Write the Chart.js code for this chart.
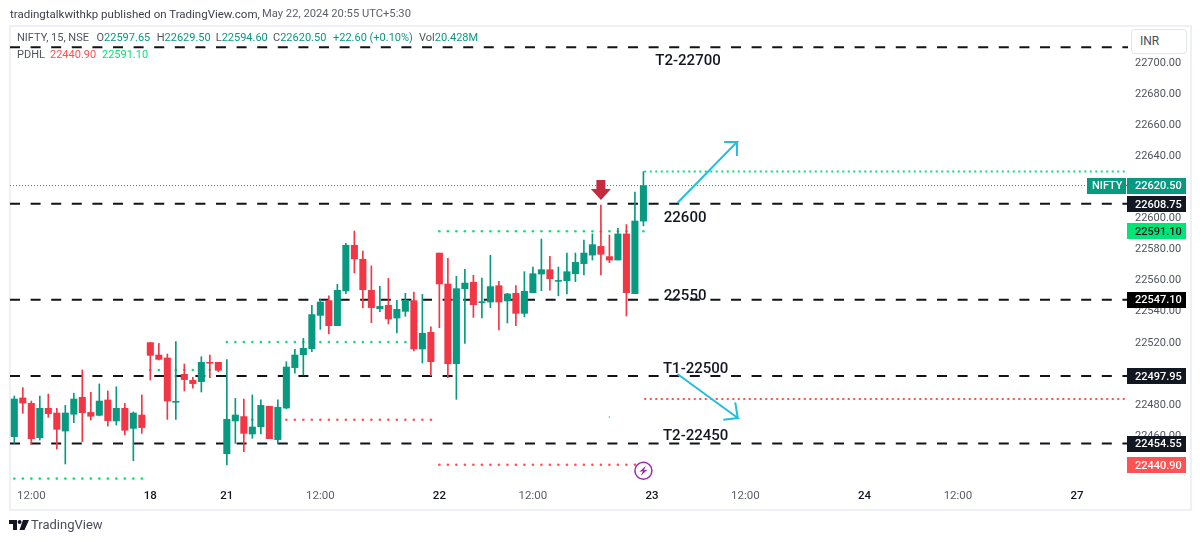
<!DOCTYPE html>
<html><head><meta charset="utf-8">
<script src="https://cdn.jsdelivr.net/npm/chart.js@4/dist/chart.umd.min.js"></script>
<style>
html,body{margin:0;padding:0;background:#fff;width:1200px;height:542px;overflow:hidden;font-family:Roboto,sans-serif}
#frame{position:absolute;left:9px;top:25px;width:1179px;height:482px;border:2px solid #eef0f6}
#wrap{position:absolute;left:0;top:0;width:1200px;height:542px}
.t{position:absolute;white-space:nowrap;line-height:16px;height:16px}
#inr{position:absolute;left:1131px;top:29px;width:54px;height:23px;border:1px solid #e0e3eb;border-radius:4px;background:#fff;font-size:12px;line-height:23px;color:#4a4d58;text-indent:8px}
</style></head><body>
<div id="frame"></div>
<div id="wrap"><canvas id="c" width="1200" height="542"></canvas></div>
<div id="inr">INR</div>
<div class="t" style="left:10px;top:6px;font-size:11.5px;color:#3c3f4a">tradingtalkwithkp published on TradingView.com,</div>
<div class="t" style="left:262px;top:6px;font-size:11.2px;color:#5d606b">May 22, 2024 20:55 UTC+5:30</div>
<div class="t" style="left:17px;top:30px;font-size:11px;color:#50535e">NIFTY, 15, NSE</div>
<div class="t" style="left:96.5px;top:30px;font-size:11px;color:#50535e">O<span style="color:#089981">22597.65</span></div>
<div class="t" style="left:156.7px;top:30px;font-size:11px;color:#50535e">H<span style="color:#089981">22629.50</span></div>
<div class="t" style="left:215.7px;top:30px;font-size:11px;color:#50535e">L<span style="color:#089981">22594.60</span></div>
<div class="t" style="left:273px;top:30px;font-size:11px;color:#50535e">C<span style="color:#089981">22620.50</span></div>
<div class="t" style="left:333px;top:30px;font-size:11px;color:#089981">+22.60 (+0.10%)</div>
<div class="t" style="left:419px;top:30px;font-size:11px;color:#50535e">Vol<span style="color:#089981">20.428M</span></div>
<div class="t" style="left:17px;top:47px;font-size:11px;color:#50535e">PDHL</div>
<div class="t" style="left:50px;top:47px;font-size:11px;color:#ff5252">22440.90</div>
<div class="t" style="left:102px;top:47px;font-size:11px;color:#00e676">22591.10</div>
<svg style="position:absolute;left:9px;top:520px" width="21" height="11" viewBox="0 0 21 11"><path d="M0 0H8V10H4V4H0Z M14 0H20L15.5 10H10.5Z" fill="#131722"/><circle cx="10.6" cy="2" r="2" fill="#131722"/></svg>
<div class="t" style="left:31px;top:517px;font-size:13px;color:#4a4d58">TradingView</div>
<script>
const opens=[22459.0,22483.9,22480.4,22458.3,22477.2,22474.2,22462.6,22473.4,22484.3,22474.6,22472.7,22482.6,22469.1,22477.2,22464.3,22472.9,22519.5,22511.5,22509.6,22481.1,22499.1,22495.2,22494.4,22506.8,22506.8,22448.0,22469.1,22471.9,22460.7,22465.4,22478.5,22457.1,22477.4,22503.4,22511.7,22515.6,22537.0,22546.5,22530.4,22552.7,22582.1,22573.1,22553.1,22541.3,22543.5,22535.3,22539.6,22546.5,22515.4,22526.1,22577.1,22557.2,22505.9,22554.2,22558.3,22545.2,22545.6,22556.1,22546.3,22551.2,22538.3,22551.6,22563.6,22566.4,22558.9,22559.3,22563.8,22570.3,22575.8,22581.4,22574.8,22572.6,22589.4,22551.0,22597.65];
const highs=[22485.1,22490.5,22481.9,22485.1,22486.4,22477.2,22479.1,22486.9,22501.9,22487.5,22492.9,22488.4,22491.1,22480.4,22474.9,22485.8,22519.5,22519.0,22512.2,22520.1,22505.7,22497.2,22510.4,22511.5,22506.8,22508.5,22483.6,22483.2,22485.8,22482.6,22478.5,22482.6,22507.2,22515.2,22522.2,22543.5,22547.5,22549.5,22557.0,22583.4,22591.3,22578.4,22568.8,22555.7,22560.8,22546.7,22551.2,22552.0,22550.5,22529.7,22577.1,22573.7,22562.1,22566.6,22562.8,22561.0,22575.6,22558.9,22551.2,22556.1,22565.1,22568.1,22586.1,22575.0,22568.1,22577.1,22577.1,22585.5,22589.4,22608.0,22588.7,22593.0,22595.4,22616.4,22629.5];
const lows=[22454.7,22474.0,22454.1,22456.8,22471.4,22451.1,22441.4,22468.0,22455.8,22469.7,22472.3,22465.8,22466.5,22460.1,22443.5,22461.1,22495.4,22508.3,22470.1,22470.1,22488.4,22490.1,22487.7,22496.9,22500.8,22440.8,22454.7,22449.3,22457.9,22460.7,22457.7,22454.3,22477.0,22499.9,22498.7,22513.7,22528.0,22525.0,22530.4,22551.0,22564.3,22541.8,22532.3,22539.4,22531.5,22525.7,22536.4,22514.1,22506.4,22498.2,22529.1,22496.9,22483.0,22519.0,22535.7,22535.3,22542.0,22527.6,22532.1,22530.4,22536.0,22551.6,22552.9,22553.3,22549.7,22550.8,22558.7,22563.0,22572.6,22563.0,22570.9,22572.6,22536.6,22551.0,22594.6];
const closes=[22483.2,22480.6,22457.7,22477.2,22473.8,22463.7,22474.2,22483.2,22474.4,22472.1,22481.9,22469.3,22477.2,22463.1,22474.2,22464.8,22511.3,22508.7,22481.9,22481.7,22495.7,22493.1,22506.8,22506.2,22501.7,22470.1,22472.9,22461.1,22465.2,22479.1,22457.7,22477.9,22503.8,22511.5,22515.8,22537.5,22545.6,22530.4,22553.1,22582.1,22573.3,22553.5,22542.0,22542.8,22534.7,22540.9,22546.7,22515.4,22525.5,22507.2,22557.2,22505.9,22554.2,22557.8,22543.9,22545.8,22555.5,22545.6,22550.8,22538.3,22552.5,22563.8,22566.4,22560.6,22559.5,22565.1,22571.1,22577.1,22582.5,22576.3,22572.6,22589.4,22551.6,22597.7,22620.5];

const xTickIndex=[2,16,25,36,50,61,75,86,100,111,125];
const xTickLabels=["12:00","18","21","12:00","22","12:00","23","12:00","24","12:00","27"];
const priceTicks=[22460,22480,22520,22540,22560,22580,22600,22640,22660,22680,22700];

const pdhSegments=[{from:0,to:15,value:22432.0},{from:16,to:24,value:22501.9},{from:25,to:49,value:22519.9},{from:50,to:74,value:22591.1}];
const pdlSegments=[{from:25,to:49,value:22469.9},{from:50,to:73,value:22440.9}];
const todayHigh=22629.5;
const todayLow=22483.2;

const dashedLevels=[22709.5,22608.75,22547.1,22497.95,22454.55];
const lastPrice=22620.5;
const arrowUpX=[78,85,83.5,85,85];
const arrowUpY=[22609.3,22648.5,22648.5,22648.5,22639.5];
const arrowDownX=[78,85.1,83.4,85.1,84.8];
const arrowDownY=[22499.3,22471.0,22469.9,22471.0,22481.0];
const strayDot=[{x:70,y:22471.6}];

const noteTexts=["T2-22700","22600","22550","T1-22500","T2-22450"];
const noteIndex=[75.4,76.4,76.4,76.3,76.3];
const notePrices=[22701,22600.3,22550,22502.7,22460];

const badgeValues=[22620.5,22608.75,22591.1,22547.1,22497.95,22454.55,22440.9];
const badgeFills=["#089981","#131722","#00e676","#000000","#131722","#131722","#ff5252"];
const badgeInk=["#fff","#fff","#131722","#fff","#fff","#fff","#fff"];

const up="#089981",down="#f23645",dash="#111318";
const dots=(segs)=>segs.flatMap(s=>{const a=[];for(let i=s.from;i<=s.to;i++)a.push({x:i,y:s.value});return a;});
const idx=opens.map((_,i)=>i);
const colorOf=i=>closes[i]>=opens[i]?up:down;
const xMin=-0.506,xMax=131;

const datasets=[];
datasets.push({type:'bar',order:2,grouped:false,barThickness:1,data:idx.map(i=>({x:i,y:[lows[i],highs[i]]})),backgroundColor:idx.map(colorOf),borderWidth:0});
datasets.push({type:'bar',order:1,grouped:false,barThickness:6.4,data:idx.map(i=>({x:i,y:[opens[i],closes[i]]})),backgroundColor:idx.map(colorOf),borderWidth:0});
datasets.push({type:'scatter',order:6,data:dots(pdhSegments),showLine:false,pointRadius:1.3,pointBorderWidth:0,pointBackgroundColor:"#00e676"});
datasets.push({type:'scatter',order:6,data:dots(pdlSegments),showLine:false,pointRadius:1.3,pointBorderWidth:0,pointBackgroundColor:"#ff5252"});
datasets.push({type:'line',order:6,data:[{x:74.1,y:todayHigh},{x:xMax,y:todayHigh}],borderColor:"#00e676",borderWidth:2,borderDash:[2,3.5],pointRadius:0});
datasets.push({type:'line',order:6,data:[{x:74.1,y:todayLow},{x:xMax,y:todayLow}],borderColor:"#ff5252",borderWidth:2,borderDash:[2,3.5],pointRadius:0});
dashedLevels.forEach(v=>datasets.push({type:'line',order:5,data:[{x:xMin,y:v},{x:xMax,y:v}],borderColor:dash,borderWidth:2,borderDash:[10,10.6],pointRadius:0}));
datasets.push({type:'line',order:5,data:[{x:xMin,y:lastPrice},{x:xMax,y:lastPrice}],borderColor:up,borderWidth:1,borderDash:[1,2],pointRadius:0});
datasets.push({type:'line',order:0,data:arrowUpX.map((x,i)=>({x,y:arrowUpY[i]})),borderColor:"#22bfdc",borderWidth:2,pointRadius:0,tension:0});
datasets.push({type:'line',order:0,data:arrowDownX.map((x,i)=>({x,y:arrowDownY[i]})),borderColor:"#22bfdc",borderWidth:2,pointRadius:0,tension:0});
datasets.push({type:'scatter',order:0,data:strayDot,showLine:false,pointRadius:0.8,pointBorderWidth:0,pointBackgroundColor:"#22bfdc"});

const overlay={id:'overlay',afterDraw(chart){
  const c=chart.ctx,xs=chart.scales.x,ys=chart.scales.y;
  c.save();
  const ax=xs.getPixelForValue(69),ay=ys.getPixelForValue(22611.2);
  c.fillStyle="#c62a3f";c.beginPath();
  c.moveTo(ax,ay);c.lineTo(ax-10,ay-11);c.lineTo(ax-4.5,ay-11);c.lineTo(ax-4.5,ay-20);c.lineTo(ax+4.5,ay-20);c.lineTo(ax+4.5,ay-11);c.lineTo(ax+10,ay-11);c.closePath();c.fill();
  const bx=xs.getPixelForValue(74),by=ys.getPixelForValue(22437.0);
  c.fillStyle="#fff";c.strokeStyle="#9c27b0";c.lineWidth=1.5;c.beginPath();c.arc(bx,by,8.5,0,Math.PI*2);c.fill();c.stroke();
  c.fillStyle="#9c27b0";c.beginPath();
  c.moveTo(bx+2.5,by-5);c.lineTo(bx-4,by+1);c.lineTo(bx-0.5,by+0.5);c.lineTo(bx-2.5,by+5);c.lineTo(bx+4,by-1);c.lineTo(bx+0.5,by-0.5);c.closePath();c.fill();
  c.font="500 15px Roboto, sans-serif";c.fillStyle="#131722";c.textAlign="left";c.textBaseline="middle";
  noteTexts.forEach((t,i)=>c.fillText(t,xs.getPixelForValue(noteIndex[i]),ys.getPixelForValue(notePrices[i])+1));
  c.font="500 11px Roboto, sans-serif";
  badgeValues.forEach((v,i)=>{
    const y=ys.getPixelForValue(v);
    c.fillStyle=badgeFills[i];c.fillRect(1127,Math.round(y)-8,59,16);
    c.fillStyle=badgeInk[i];c.fillText(v.toFixed(2),1135,y+1);
  });
  const ny=ys.getPixelForValue(lastPrice);
  c.fillStyle=up;c.fillRect(1087,Math.round(ny)-8,39,16);
  c.fillStyle="#fff";c.fillText("NIFTY",1092,ny+1);
  c.restore();
}};

new Chart(document.getElementById('c'),{
  type:'bar',
  data:{datasets},
  plugins:[overlay],
  options:{
    responsive:false,animation:false,
    layout:{padding:{left:10,top:26,right:10,bottom:34}},
    plugins:{legend:{display:false},tooltip:{enabled:false}},
    scales:{
      x:{type:'linear',offset:false,min:xMin,max:xMax,
        grid:{display:false,drawTicks:false},border:{display:false},
        afterBuildTicks:s=>{s.ticks=xTickIndex.map(v=>({value:v}));},
        afterFit:s=>{s.height=24;},
        ticks:{autoSkip:false,maxRotation:0,padding:5,
          callback:(v,i)=>xTickLabels[i],
          color:c=>xTickLabels[c.index]==="12:00"?"#5d606b":"#131722",
          font:c=>({family:"Roboto",size:11.5,weight:xTickLabels[c.index]==="12:00"?"400":"500"})}},
      y:{type:'linear',position:'right',min:22428.53,max:22723.16,
        grid:{display:false,drawTicks:false},border:{display:false},
        afterBuildTicks:s=>{s.ticks=priceTicks.map(v=>({value:v}));},
        afterFit:s=>{s.width=62;},
        ticks:{autoSkip:false,padding:7,labelOffset:1,color:"#50535e",font:{family:"Roboto",size:11},callback:v=>v.toFixed(2)}}
    }
  }
});
</script>
</body></html>
